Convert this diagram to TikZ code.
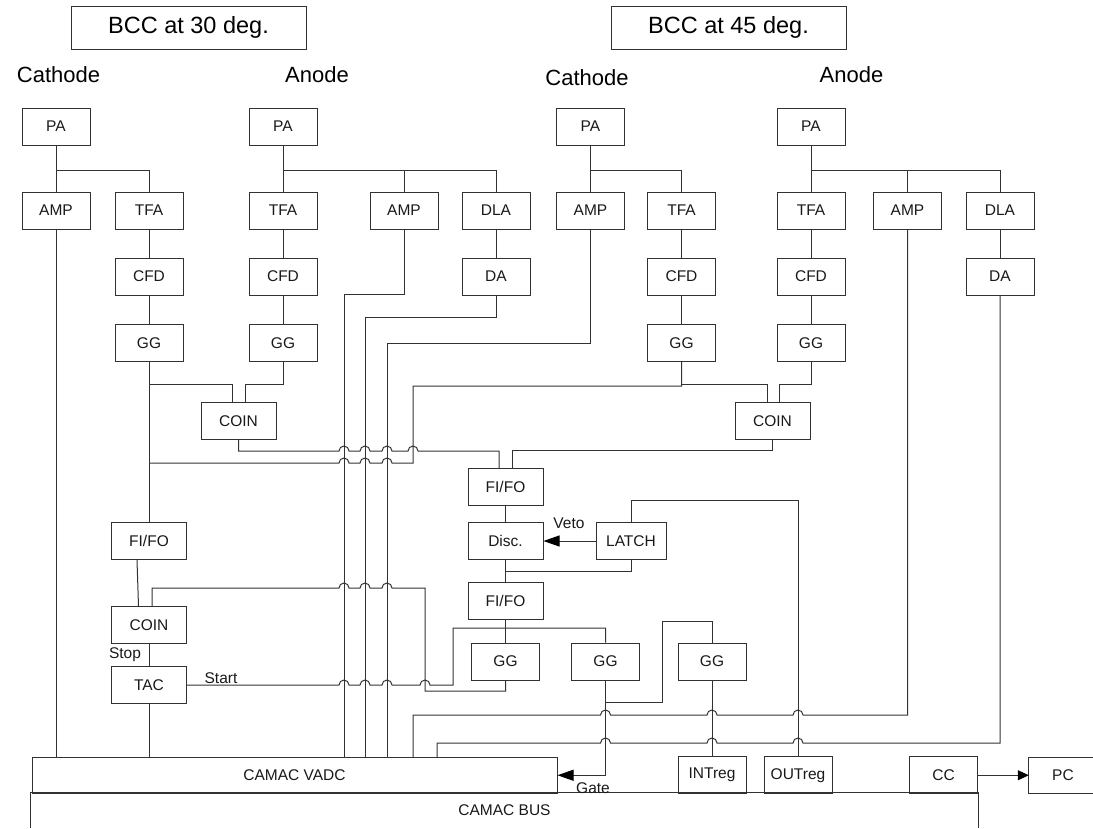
\documentclass[tikz,border=0pt]{standalone}
\usepackage{fontspec}
\setmainfont{Liberation Sans}
\usetikzlibrary{arrows.meta}
\definecolor{wirecolor}{RGB}{50,50,50}
\newcommand{\hopright}[2]{-- (#1-5,#2) arc[start angle=180,end angle=360,radius=5]}
\newcommand{\hopleft}[2]{-- (#1+5,#2) arc[start angle=0,end angle=-180,radius=5]}
\tikzset{
  wire/.style={draw=wirecolor,line width=1pt},
  labeltext/.style={font=\fontsize{15.5}{18}\selectfont,text=black!90,inner sep=0pt},
  modbox/.style={labeltext,wire,fill=white,minimum width=68pt,minimum height=37pt},
  widebox/.style={modbox,minimum width=75pt},
  titlebox/.style={wire,fill=white,minimum width=235pt,minimum height=43pt,inner sep=0pt,font=\fontsize{23.5}{27}\selectfont},
  headtext/.style={inner sep=0pt,font=\fontsize{22}{26}\selectfont},
  bigtip/.style={-{Triangle[length=16pt,width=11pt,color=black,fill=black]}},
  smalltip/.style={-{Triangle[length=11pt,width=10pt,color=black,fill=black]}}
}
\begin{document}
\begin{tikzpicture}[x=1pt,y=-1pt]
  \useasboundingbox (0,0) rectangle (1093,828);
  \node[titlebox] (bccA) at (188.5,27.5) {BCC at 30 deg.};
  \node[titlebox] (bccB) at (728.5,27.5) {BCC at 45 deg.};
  \node[headtext] (cathodeA) at (58.5,75) {Cathode};
  \node[headtext] (anodeA) at (317,75) {Anode};
  \node[headtext] (cathodeB) at (587,78) {Cathode};
  \node[headtext] (anodeB) at (851.5,75) {Anode};
  % front end modules
  \foreach \nm/\xx/\yy/\txt in {
    paA/56/126.5/PA, ampA/56/210.5/AMP, tfaA/149/210.5/TFA, cfdA/149/276.5/CFD, ggA/149/343/GG,
    paB/283/126.5/PA, tfaB/283/210.5/TFA, cfdB/283/276.5/CFD, ggB/283/343/GG,
    ampB/404/210.5/AMP, dlaB/496/210.5/DLA, daB/496/276.5/DA,
    paC/590.5/126.5/PA, ampC/590.5/210.5/AMP, tfaC/681.5/210.5/TFA, cfdC/681.5/276.5/CFD, ggC/681.5/343/GG,
    paD/811/126.5/PA, tfaD/811/210.5/TFA, cfdD/811/276.5/CFD, ggD/811/343/GG,
    ampD/907.5/210.5/AMP, dlaD/1000/210.5/DLA, daD/1000/276.5/DA,
    ggE/505.5/661.5/GG, ggF/605.5/661.5/GG, ggG/712/661.5/GG,
    intreg/712/775.25/INTreg, outreg/798/775.25/OUTreg, cc/943.5/775.25/CC}{
    \node[modbox] (\nm) at (\xx,\yy) {\txt};
  }
  \node[widebox] (coinA) at (238.5,421) {COIN};
  \node[widebox] (coinB) at (772.5,421) {COIN};
  \node[widebox] (fifoA) at (505.5,487) {FI/FO};
  \node[widebox] (disc) at (505.5,541) {Disc.};
  \node[modbox,minimum width=70pt] (latch) at (631,541) {LATCH};
  \node[widebox] (fifoB) at (505.5,601) {FI/FO};
  \node[widebox] (fifoC) at (149,541) {FI/FO};
  \node[widebox] (coinC) at (149,625) {COIN};
  \node[widebox] (tac) at (149,685) {TAC};
  \node[modbox,minimum width=525pt,minimum height=35.5pt] (vadc) at (294.5,775.25) {CAMAC VADC};
  % these two are cut by the page
  \node[labeltext,minimum width=947pt,minimum height=35pt] (bus) at (504.5,810.5) {CAMAC BUS};
  \draw[wire] (bus.south west) |- (bus.north east) -- (bus.south east);
  \node[labeltext,minimum width=68pt,minimum height=35.5pt] (pc) at (1063,775.25) {PC};
  \draw[wire] (pc.north east) -| (pc.south west) -- (pc.south east);
  \node[labeltext] (stop) at (125,655) {Stop};
  \node[labeltext] (start) at (221,678) {Start};
  \node[labeltext] (veto) at (569,523) {Veto};
  \node[labeltext] (gate) at (593,788) {Gate};
  \coordinate (splitA) at (56,170);
  \coordinate (splitB) at (283,170);
  \coordinate (splitC) at (590.5,170);
  \coordinate (splitD) at (811,170);
  \coordinate (splitE) at (149,384);
  \coordinate (splitF) at (681.5,384);
  \coordinate (splitG) at (149,463);
  \coordinate (splitH) at (505.5,571);
  \coordinate (splitI) at (605.5,702);
  % preamps
  \draw[wire] (paA.south) -- (ampA.north);
  \draw[wire] (splitA) -| (tfaA.north);
  \draw[wire] (paB.south) -- (tfaB.north);
  \draw[wire] (splitB) -| (dlaB.north);
  \draw[wire] (ampB.north) -- (ampB.north |- splitB);
  \draw[wire] (paC.south) -- (ampC.north);
  \draw[wire] (splitC) -| (tfaC.north);
  \draw[wire] (paD.south) -- (tfaD.north);
  \draw[wire] (splitD) -| (dlaD.north);
  \draw[wire] (ampD.north) -- (ampD.north |- splitD);
  \foreach \from/\to in {tfaA/cfdA,cfdA/ggA,tfaB/cfdB,cfdB/ggB,dlaB/daB,tfaC/cfdC,cfdC/ggC,tfaD/cfdD,cfdD/ggD,dlaD/daD,
    ggA/fifoC,fifoA/disc,disc/fifoB,fifoB/ggE,coinC/tac,ggG/intreg}{
    \draw[wire] (\from.south) -- (\to.north);
  }
  % coincidences
  \draw[wire] (splitE) -| ([xshift=-6.5pt]coinA.north);
  \draw[wire] (ggB.south) -- ++(0,22) -| ([xshift=6.5pt]coinA.north);
  \draw[wire] (splitF) -| ([xshift=-5.5pt]coinB.north);
  \draw[wire] (ggD.south) -- ++(0,22) -| ([xshift=6.5pt]coinB.north);
  \draw[wire] (coinA.south) -- (238.5,451) \hopright{344}{451} \hopright{365}{451} \hopright{387}{451} \hopright{413}{451} -- (499,451) -- ([xshift=-6.5pt]fifoA.north);
  \draw[wire] (coinB.south) -- ++(0,10) -| ([xshift=6.5pt]fifoA.north);
  \draw[wire] (splitG) \hopright{344}{463} \hopright{365}{463} \hopright{387}{463} -- (413,463) -- (413,386) -| (ggC.south);
  % signals down to the VADC
  \draw[wire] (ampA.south) -- (ampA.south |- vadc.north);
  \draw[wire] (tac.south) -- (tac.south |- vadc.north);
  \draw[wire] (ampB.south) |- (344,294) -- (344,0 |- vadc.north);
  \draw[wire] (daB.south) |- (365,317) -- (365,0 |- vadc.north);
  \draw[wire] (ampC.south) |- (387,343) -- (387,0 |- vadc.north);
  \draw[wire] (ampD.south) -- (907.5,715) \hopleft{798}{715} \hopleft{712}{715} \hopleft{605.5}{715} -- (413,715) -- (413,0 |- vadc.north);
  \draw[wire] (daD.south) -- (1000,743) \hopleft{798}{743} \hopleft{712}{743} \hopleft{605.5}{743} -- (437,743) -- (437,0 |- vadc.north);
  % timing
  \draw[wire] ([xshift=-12pt]fifoC.south) -- ([xshift=-10.5pt]coinC.north);
  \draw[wire] ([xshift=3pt]coinC.north) -- (152,588) \hopright{344}{588} \hopright{365}{588} \hopright{387}{588} -- (425,588) -- (425,691) -| (ggE.south);
  \draw[wire] (tac.east) \hopright{344}{685} \hopright{365}{685} \hopright{387}{685} \hopright{425}{685} -- (453,685) -- (453,628) -| (ggF.north);
  % veto, gate and readout
  \draw[wire,bigtip] (latch.west) -- (disc.east);
  \draw[wire] (splitH) -| (latch.south);
  \draw[wire] (latch.north) -- ++(0,-22) -| (outreg.north);
  \draw[wire] (splitI) -- (662.5,702) -- (662.5,621) -| (ggG.north);
  \draw[wire,bigtip] (ggF.south) |- (vadc.east);
  \draw[wire,smalltip] (cc.east) -- (pc.west);
\end{tikzpicture}
\end{document}
